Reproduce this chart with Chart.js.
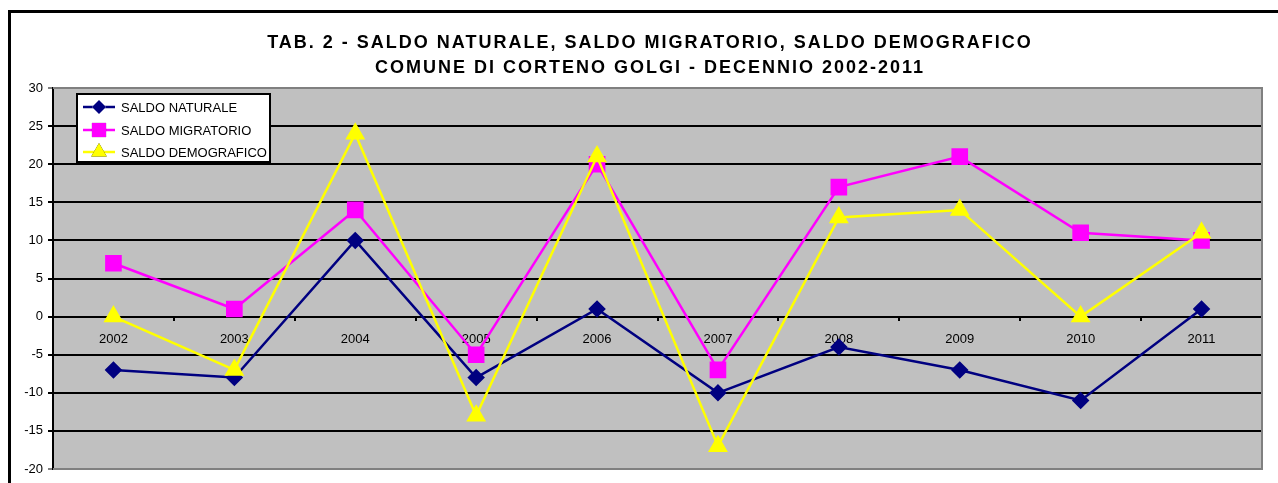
<!DOCTYPE html>
<html>
<head>
<meta charset="utf-8">
<script src="https://cdn.jsdelivr.net/npm/chart.js@4/dist/chart.umd.min.js"></script>
<style>
  html, body { margin: 0; padding: 0; background: #fff; }
  #chartSaldo { display: block; }
</style>
</head>
<body>
<canvas id="chartSaldo" width="1278" height="483"></canvas>
<script>
'use strict';

// dati saldo 2002-2011
var anni = ["2002","2003","2004","2005","2006","2007","2008","2009","2010","2011"];
var saldoNaturale = [-7,-8,10,-8,1,-10,-4,-7,-11,1];
var saldoMigratorio = [7,1,14,-5,20,-7,17,21,11,10];
var saldoDemografico = [0,-7,24,-13,21,-17,13,14,0,11];
var tickY = [-20,-15,-10,-5,0,5,10,15,20,25,30];
var titolo = ["TAB. 2 - SALDO NATURALE, SALDO MIGRATORIO, SALDO DEMOGRAFICO",
              "COMUNE DI CORTENO GOLGI - DECENNIO 2002-2011"];

var FONT = '"Liberation Sans", Arial, sans-serif';

// sfondo grigio, bordo area, cornice esterna, titolo e legenda
var sfondoPlugin = {
  id: 'sfondo',
  beforeDraw: function(chart) {
    var a = chart.chartArea, ctx = chart.ctx;
    ctx.save();
    ctx.fillStyle = '#c0c0c0';
    ctx.fillRect(a.left, a.top, a.right - a.left, a.bottom - a.top);
    ctx.restore();
  },
  beforeDatasetsDraw: function(chart) {
    var a = chart.chartArea, ctx = chart.ctx;
    ctx.save();
    ctx.strokeStyle = '#808080';
    ctx.lineWidth = 2;
    ctx.beginPath();
    ctx.moveTo(a.left, a.top); ctx.lineTo(a.right, a.top);
    ctx.lineTo(a.right, a.bottom); ctx.lineTo(a.left, a.bottom);
    ctx.stroke();
    ctx.restore();
  },
  afterDraw: function(chart) {
    var ctx = chart.ctx;
    ctx.save();
    // cornice
    ctx.strokeStyle = '#000';
    ctx.lineWidth = 3;
    ctx.strokeRect(9.5, 11.5, 1320, 600);

    // titolo (spaziatura larga come nell'originale)
    ctx.fillStyle = '#000';
    ctx.font = 'bold 18px ' + FONT;
    ctx.textAlign = 'center';
    ctx.textBaseline = 'middle';
    ctx.letterSpacing = '2px';
    ctx.fillText(titolo[0], 650, 43);
    ctx.fillText(titolo[1], 650, 68);
    ctx.letterSpacing = '0px';

    // legenda
    ctx.fillStyle = '#fff';
    ctx.fillRect(77, 94, 193, 68);
    ctx.lineWidth = 2;
    ctx.strokeRect(77, 94, 193, 68);
    var righe = [107, 130, 152];
    chart.data.datasets.forEach(function(ds, i) {
      var y = righe[i];
      ctx.strokeStyle = ds.borderColor;
      ctx.lineWidth = ds.borderWidth;
      ctx.beginPath();
      ctx.moveTo(83, y); ctx.lineTo(115, y);
      ctx.stroke();
      Chart.helpers.drawPoint(ctx, {
        pointStyle: ds.pointStyle, radius: ds.pointRadius, rotation: 0, borderWidth: 0
      }, 99, y);
      ctx.fillStyle = ds.pointBackgroundColor;
      ctx.fill();
      ctx.fillStyle = '#000';
      ctx.font = '13px ' + FONT;
      ctx.textBaseline = 'middle';
      ctx.textAlign = 'left';
      ctx.fillText(ds.label, 121, y + 1);
    });
    ctx.restore();
  }
};

new Chart(document.getElementById('chartSaldo'), {
  type: 'line',
  data: {
    labels: anni,
    datasets: [
      {
        label: "SALDO NATURALE",
        data: saldoNaturale,
        order: 3,
        borderColor: '#000080',
        backgroundColor: '#000080',
        pointBackgroundColor: '#000080',
        pointBorderColor: '#000080',
        pointStyle: 'rectRot',
        pointRadius: 7,
        borderWidth: 2.5
      },
      {
        label: "SALDO MIGRATORIO",
        data: saldoMigratorio,
        order: 2,
        borderColor: '#ff00ff',
        backgroundColor: '#ff00ff',
        pointBackgroundColor: '#ff00ff',
        pointBorderColor: '#ff00ff',
        pointStyle: 'rect',
        pointRadius: 10,
        borderWidth: 2.5
      },
      {
        label: "SALDO DEMOGRAFICO",
        data: saldoDemografico,
        order: 1,
        borderColor: '#ffff00',
        backgroundColor: '#ffff00',
        pointBackgroundColor: '#ffff00',
        pointBorderColor: '#ffff00',
        pointStyle: 'triangle',
        pointRadius: 9,
        borderWidth: 2.5
      }
    ]
  },
  options: {
    responsive: false,
    animation: false,
    layout: { padding: { left: 20, right: 16, top: 88, bottom: 14 } },
    plugins: {
      legend: { display: false },
      tooltip: { enabled: false },
      title: { display: false }
    },
    scales: {
      x: {
        position: { y: 0 },
        offset: true,
        grid: {
          drawOnChartArea: false, drawTicks: true, offset: true,
          tickLength: 4, color: '#000', lineWidth: 2
        },
        border: { display: false },
        ticks: { color: '#000', font: { family: FONT, size: 13 }, padding: 11, maxRotation: 0 }
      },
      y: {
        min: -20,
        max: 30,
        afterFit: function(scale) { scale.width = 33; },
        afterBuildTicks: function(scale) {
          scale.ticks = tickY.map(function(v) { return { value: v }; });
        },
        grid: {
          color: function(c) {
            return (c.tick && (c.tick.value === 30 || c.tick.value === -20)) ? '#808080' : '#000';
          },
          lineWidth: 2,
          tickLength: 5
        },
        border: { display: true, color: '#000', width: 2 },
        ticks: { color: '#000', font: { family: FONT, size: 13 }, padding: 5 }
      }
    }
  },
  plugins: [sfondoPlugin]
});
</script>
</body>
</html>
